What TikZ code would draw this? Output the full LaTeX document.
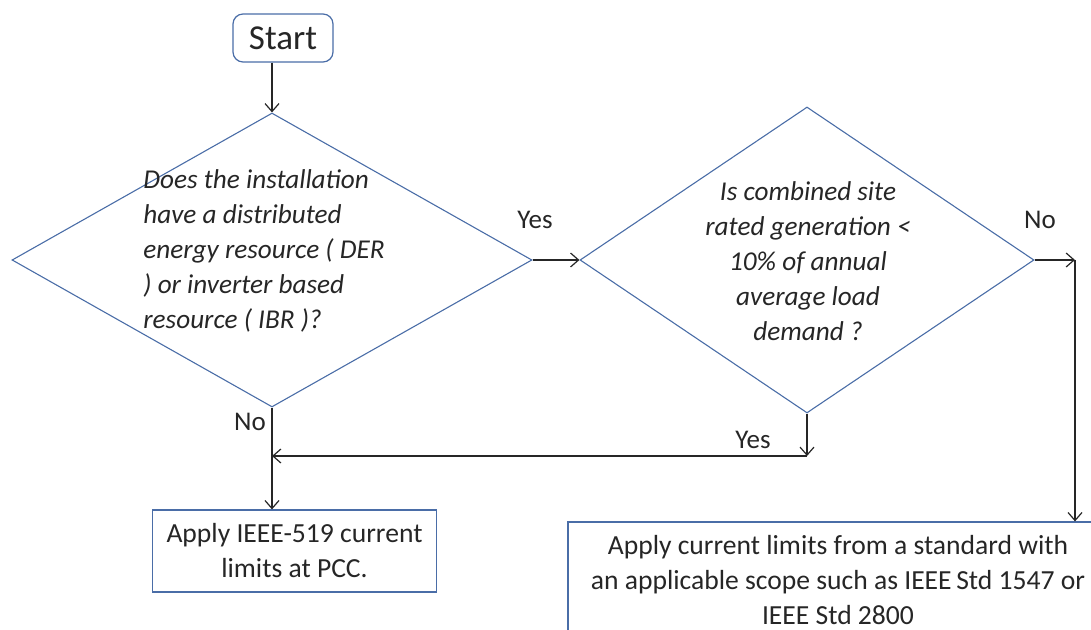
\documentclass[tikz,border=0pt]{standalone}
\usepackage{fontspec}
\setmainfont{Carlito}
\usepackage{xcolor}
\usepackage{tikz}
\usetikzlibrary{shapes.geometric,arrows.meta,positioning}
\definecolor{flowblue}{HTML}{4A6DA7}
\definecolor{flowline}{HTML}{262626}

\begin{document}
\begin{tikzpicture}[
  x=0.5pt, y=-0.5pt,
  box/.style={draw=flowblue, line width=0.6pt, align=center, inner sep=0pt, font=\fontsize{13.8}{17.5}\selectfont, text=flowline},
  decision/.style={draw=flowblue, line width=0.55pt, diamond, inner sep=0pt},
  qtext/.style={font=\fontsize{13.6}{17.5}\selectfont\itshape, text=flowline, inner sep=0pt},
  lbl/.style={font=\fontsize{13.5}{15}\selectfont, text=flowline},
  arr/.style={-{Straight Barb[length=4pt,width=7pt]}, line width=0.6pt, draw=flowline}
]
  \useasboundingbox (0,0) rectangle (1091,630);
  \clip (0,0) rectangle (1091,630);

  \node[box, rounded corners=5pt, minimum width=50pt, minimum height=24pt, font=\fontsize{17.5}{20}\selectfont] (start) at (283,38) {Start};

  \node[decision, minimum width=260pt, minimum height=147pt] (q1) at (272,260) {};
  \node[qtext, anchor=west, align=left] (q1txt) at (143,251)
    {Does the installation\\have a distributed\\energy resource ( DER\\) or inverter based\\resource ( IBR )?};

  \node[decision, minimum width=227pt, minimum height=153pt] (q2) at (807,260) {};
  \node[qtext, align=center] (q2txt) at (808,261)
    {Is combined site\\rated generation <\\10\% of annual\\average load\\demand ?};

  \node[box, minimum width=142pt, minimum height=41pt] (res1) at (294.5,551)
    {Apply IEEE-519 current\\limits at PCC.};
  \node[box, minimum width=270pt, minimum height=58pt] (res2) at (838,580)
    {Apply current limits from a standard with\\an applicable scope such as IEEE\,Std 1547 or\\IEEE Std 2800};

  \coordinate (noturn) at (1075,260);
  \coordinate (yesturn) at (807,456);

  \draw[arr] (q1.north |- start.south) -- (q1.north);
  \draw[arr] (q1.east) -- (q2.west);
  \draw[arr] (q2.east) -- (noturn);
  \draw[arr] (noturn) -- (noturn |- res2.north);
  \draw[arr] (q1.south) -- (q1.south |- res1.north);
  \draw[arr] (q2.south) -- (yesturn);
  \draw[arr] (yesturn) -- (yesturn -| q1.south);

  \node[lbl] (yeslbl1) at (535,220) {Yes};
  \node[lbl] (nolbl1) at (1040,220) {No};
  \node[lbl] (nolbl2) at (250,422) {No};
  \node[lbl] (yeslbl2) at (753,440) {Yes};
\end{tikzpicture}
\end{document}
